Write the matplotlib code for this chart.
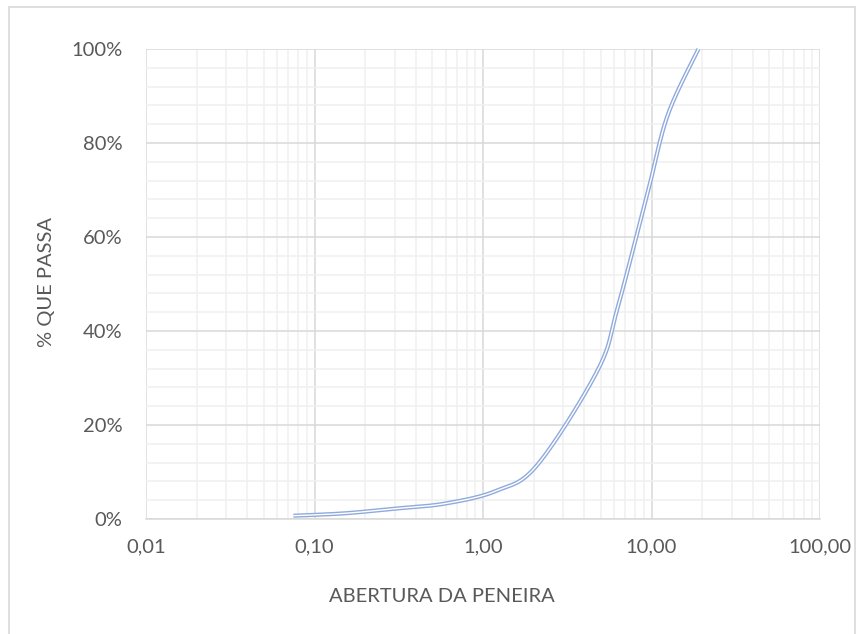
import numpy as np
import matplotlib
matplotlib.use("Agg")
import matplotlib.pyplot as plt
from matplotlib.ticker import FixedLocator, FuncFormatter, NullFormatter
from matplotlib.patches import Rectangle

# ---- data ----
abertura = [0.075, 0.15, 0.3, 0.6, 1.2, 2.1, 4.8, 6.3, 9.5, 12.5, 19.0]   # mm
passa = [0.7, 1.2, 2.2, 3.3, 6.0, 11.5, 31.7, 45.0, 69.5, 86.0, 100.0]    # %
x_ticks = [0.01, 0.1, 1, 10, 100]
x_tick_labels = ["0,01", "0,10", "1,00", "10,00", "100,00"]
y_ticks = [0, 20, 40, 60, 80, 100]
y_tick_labels = ["0%", "20%", "40%", "60%", "80%", "100%"]
x_title = "ABERTURA DA PENEIRA"
y_title = "% QUE PASSA"

W, H = 863, 634
fig = plt.figure(figsize=(W / 100, H / 100), dpi=100)
plt.rcParams['font.family'] = ['Lato', 'DejaVu Sans']
FS = 14.5

L, R, T, B = 146, 820, 49, 519
ax = fig.add_axes([L / W, 1 - B / H, (R - L) / W, (B - T) / H])
ax.set_xscale('log')
ax.set_xlim(0.01, 100)
ax.set_ylim(0, 100)

# outer chart frame
fig.patches.append(Rectangle((9 / W, -0.1), (855 - 9) / W, 1 - 7 / H + 0.1, transform=fig.transFigure,
                             fill=False, edgecolor='#D9D9D9', linewidth=1.2))

# grid
ax.xaxis.set_major_locator(FixedLocator(x_ticks))
minor_x = [m * 10.0 ** e for e in range(-2, 2) for m in range(2, 10)]
ax.xaxis.set_minor_locator(FixedLocator(minor_x))
ax.xaxis.set_minor_formatter(NullFormatter())
ax.xaxis.set_major_formatter(FuncFormatter(lambda v, p: x_tick_labels[x_ticks.index(v)] if v in x_ticks else ""))
ax.yaxis.set_major_locator(FixedLocator(y_ticks))
ax.yaxis.set_minor_locator(FixedLocator([v for v in range(0, 101, 4) if v % 20 != 0]))
ax.yaxis.set_major_formatter(FuncFormatter(lambda v, p: y_tick_labels[y_ticks.index(int(round(v)))]))
ax.grid(which='major', color='#D9D9D9', linewidth=1.1)
ax.grid(which='minor', color='#F0F0F0', linewidth=1.1)
ax.set_axisbelow(True)
for s in ['top', 'right', 'left']:
    ax.spines[s].set_visible(False)
ax.spines['bottom'].set_color('#D9D9D9')
ax.spines['bottom'].set_linewidth(1.1)
ax.tick_params(which='both', length=0)
ax.tick_params(axis='x', pad=14, labelsize=FS, labelcolor='#595959')
ax.tick_params(axis='y', pad=17, labelsize=FS, labelcolor='#595959')

# smoothed curve (Excel-style Bezier smoothing, computed in pixel-like space)
u = (np.log10(abertura) + 2) / 4 * (R - L)
v = np.array(passa) / 100 * (B - T)
P = np.column_stack([u, v])
n = len(P)
pts = []
t = np.linspace(0, 1, 30)
for i in range(n - 1):
    p0 = P[i]
    p3 = P[i + 1]
    pm = P[i - 1] if i > 0 else P[i]
    pp = P[i + 2] if i + 2 < n else P[i + 1]
    c1 = p0 + (p3 - pm) / 6
    c2 = p3 - (pp - p0) / 6
    seg = ((1 - t) ** 3)[:, None] * p0 + (3 * (1 - t) ** 2 * t)[:, None] * c1 \
        + (3 * (1 - t) * t ** 2)[:, None] * c2 + (t ** 3)[:, None] * p3
    pts.append(seg if i == 0 else seg[1:])
S = np.vstack(pts)
xs = 10 ** (S[:, 0] / (R - L) * 4 - 2)
ys = S[:, 1] / (B - T) * 100
ax.plot(xs, ys, color='#8FAADC', linewidth=3.0, solid_capstyle='butt', clip_on=False)
ax.plot(xs, ys, color='white', linewidth=1.0, solid_capstyle='butt', clip_on=False)

fig.text(442 / W, 1 - 596 / H, x_title, ha='center', va='center', fontsize=FS, color='#595959')
fig.text(46.5 / W, 1 - 282 / H, y_title, ha='center', va='center', rotation=90, fontsize=FS, color='#595959')

fig.savefig("out.png", dpi=100)
